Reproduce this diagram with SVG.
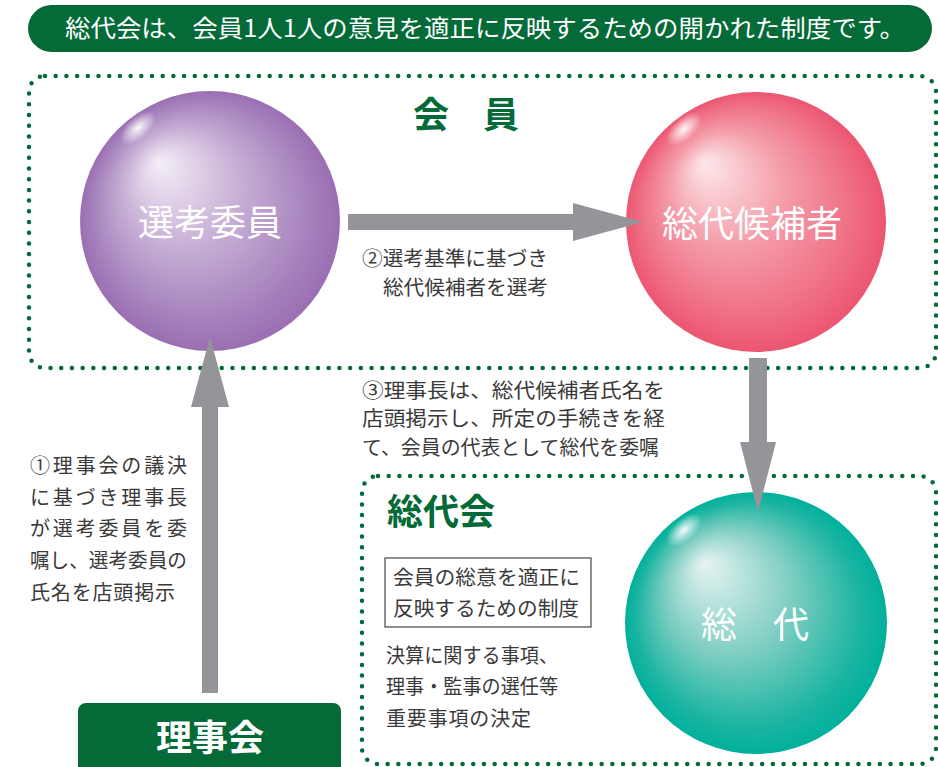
<svg xmlns="http://www.w3.org/2000/svg" width="938" height="767" viewBox="0 0 938 767">
<style>
text{font-family:"Noto Sans CJK JP","Noto Sans",sans-serif}
.body{font-size:20px;fill:#3a3a3a}
.ball{font-size:36px;fill:#ffffff;text-anchor:middle}
.title{font-size:36px;fill:#046a38;font-weight:bold}
.dots{fill:none;stroke:#046a38;stroke-width:4.5;stroke-linecap:round;stroke-dasharray:0 10.7}
.arrow{fill:#939598}
.hl{fill:url(#shine)}
</style>
<defs>
<radialGradient id="gPurple" cx="0.5" cy="0.5" r="0.5" fx="0.3" fy="0.27">
<stop offset="0" stop-color="#f4eef7"/>
<stop offset="0.45" stop-color="#c8afd6"/>
<stop offset="0.85" stop-color="#a480bb"/>
<stop offset="1" stop-color="#9a6fb3"/>
</radialGradient>
<radialGradient id="gRed" cx="0.5" cy="0.5" r="0.5" fx="0.3" fy="0.27">
<stop offset="0" stop-color="#fde8ea"/>
<stop offset="0.45" stop-color="#f49ca8"/>
<stop offset="0.85" stop-color="#ef6a80"/>
<stop offset="1" stop-color="#ec5571"/>
</radialGradient>
<radialGradient id="gTeal" cx="0.5" cy="0.5" r="0.5" fx="0.3" fy="0.27">
<stop offset="0" stop-color="#e6f4f2"/>
<stop offset="0.45" stop-color="#86d0c5"/>
<stop offset="0.85" stop-color="#1db5a2"/>
<stop offset="1" stop-color="#00b09c"/>
</radialGradient>
<radialGradient id="shine" cx="0.5" cy="0.5" r="0.5">
<stop offset="0" stop-color="#ffffff" stop-opacity="0.95"/>
<stop offset="1" stop-color="#ffffff" stop-opacity="0"/>
</radialGradient>
</defs>

<g id="banner">
<rect x="28" y="5" width="904" height="47" rx="23.5" fill="#046a38"/>
<text x="65" y="37" font-size="24" fill="#ffffff" textLength="840" lengthAdjust="spacingAndGlyphs">総代会は、会員1人1人の意見を適正に反映するための開かれた制度です。</text>
</g>

<g id="members-group">
<rect class="dots" x="29" y="76" width="907" height="292" rx="16"/>
<text class="title" x="413" y="128" textLength="106">会　員</text>
</g>

<g id="sodaikai-group">
<rect class="dots" x="362" y="476" width="574" height="288" rx="16"/>
<text class="title" x="387" y="525" textLength="108">総代会</text>
<rect x="385" y="558" width="206" height="69" fill="#ffffff" stroke="#555555" stroke-width="1.3"/>
<text class="body" x="393" y="585" textLength="187" lengthAdjust="spacingAndGlyphs">会員の総意を適正に</text>
<text class="body" x="393" y="616" textLength="186" lengthAdjust="spacingAndGlyphs">反映するための制度</text>
<text class="body" x="386" y="663" textLength="172" lengthAdjust="spacingAndGlyphs">決算に関する事項、</text>
<text class="body" x="386" y="694" textLength="172" lengthAdjust="spacingAndGlyphs">理事・監事の選任等</text>
<text class="body" x="386" y="726" textLength="145">重要事項の決定</text>
</g>

<g id="node-senkou">
<circle cx="210" cy="221" r="130" fill="url(#gPurple)"/>
<ellipse class="hl" cx="138" cy="128" rx="22" ry="11" transform="rotate(-42 138 128)"/>
<text class="ball" x="210" y="236">選考委員</text>
</g>

<g id="node-kouho">
<circle cx="756" cy="222" r="130" fill="url(#gRed)"/>
<ellipse class="hl" cx="684" cy="129" rx="22" ry="11" transform="rotate(-42 684 129)"/>
<text class="ball" x="752" y="237">総代候補者</text>
</g>

<g id="node-sodai">
<circle cx="756" cy="623" r="131" fill="url(#gTeal)"/>
<ellipse class="hl" cx="684" cy="530" rx="22" ry="11" transform="rotate(-42 684 530)"/>
<text class="ball" x="755" y="638">総　代</text>
</g>

<g id="node-rijikai">
<rect x="78" y="703" width="263" height="80" rx="8" fill="#046a38"/>
<text x="210" y="751" font-size="36" font-weight="bold" fill="#ffffff" text-anchor="middle">理事会</text>
</g>

<g id="connectors">
<path class="arrow" d="M348,214 H573 V203 L643,222 L573,241 V230 H348 Z"/>
<path class="arrow" d="M202,693 V407 H191 L210,337 L229,407 H218 V693 Z"/>
<path class="arrow" d="M749,358 H767 V442 H776 L758,512 L740,442 H749 Z"/>
</g>

<g id="labels">
<text class="body" x="362" y="266" textLength="186" lengthAdjust="spacingAndGlyphs">②選考基準に基づき</text>
<text class="body" x="383" y="295" textLength="165" lengthAdjust="spacingAndGlyphs">総代候補者を選考</text>
<text class="body" x="362" y="398" textLength="303" lengthAdjust="spacingAndGlyphs">③理事長は、総代候補者氏名を</text>
<text class="body" x="362" y="426" textLength="303" lengthAdjust="spacingAndGlyphs">店頭掲示し、所定の手続きを経</text>
<text class="body" x="362" y="455" textLength="297" lengthAdjust="spacingAndGlyphs">て、会員の代表として総代を委嘱</text>
<text class="body" x="30" y="473" textLength="157">①理事会の議決</text>
<text class="body" x="30" y="505" textLength="157">に基づき理事長</text>
<text class="body" x="30" y="536" textLength="157">が選考委員を委</text>
<text class="body" x="30" y="568" textLength="157" lengthAdjust="spacingAndGlyphs">嘱し、選考委員の</text>
<text class="body" x="30" y="600" textLength="145">氏名を店頭掲示</text>
</g>
</svg>
